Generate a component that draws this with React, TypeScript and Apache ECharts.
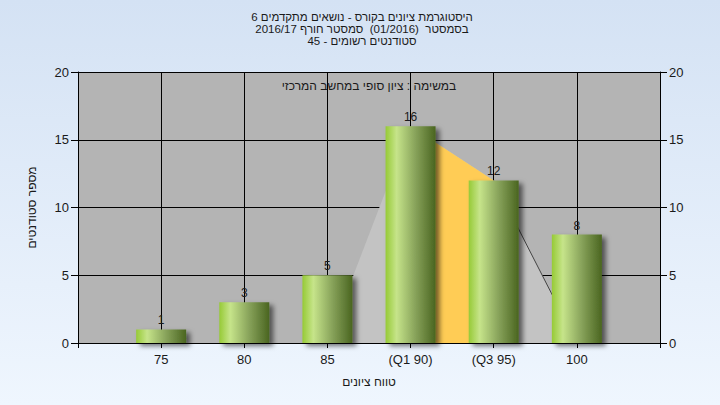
import React, { useEffect, useRef } from "react";
import * as echarts from "echarts";

const categories = ["", "75", "80", "85", "(Q1 90)", "(Q3 95)", "100", ""];
const counts = [null, 1, 3, 5, 16, 12, 8, null];
const rangeArea = [null, null, null, 0, 16, 12, 0, null];
const quartileArea = [null, null, null, null, 16, 12, null, null];
const tailLine = [null, null, null, null, null, 12, 0, null];
const yTicks = { min: 0, max: 20, interval: 5 };

const titleLines = [
  "היסטוגרמת ציונים בקורס - נושאים מתקדמים 6",
  "בסמסטר  (01/2016)  סמסטר חורף 2016/17",
  "סטודנטים רשומים - 45",
];
const innerTitle = "במשימה : ציון סופי במחשב המרכזי";
const xName = "טווח ציונים";
const yName = "מספר סטודנטים";

const FONT = "'Liberation Sans', 'DejaVu Sans', Arial, sans-serif";
const rtl = (s: string) => "\u202B" + s + "\u202C";

export default function App() {
  const ref = useRef<HTMLDivElement>(null);
  useEffect(() => {
    if (!ref.current) return;
    const chart = echarts.init(ref.current, null, { renderer: "svg" });
    const axisCommon = {
      type: "value" as const,
      min: yTicks.min,
      max: yTicks.max,
      interval: yTicks.interval,
      axisLine: { show: true, lineStyle: { color: "#000", width: 1 } },
      axisTick: { show: true, length: 7, lineStyle: { color: "#000" } },
      axisLabel: { color: "#1a1a1a", fontSize: 13, fontFamily: FONT, margin: 9 },
    };
    const titleGraphics = titleLines.map((line, i) => ({
      type: "text",
      x: 362,
      y: 17 + i * 12,
      z: 100,
      style: {
        text: rtl(line),
        fill: "#1a1a1a",
        fontSize: 11.5,
        fontFamily: FONT,
        align: "center",
        verticalAlign: "middle",
      },
    }));
    chart.setOption({
      animation: false,
      backgroundColor: new echarts.graphic.LinearGradient(0, 0, 0, 1, [
        { offset: 0, color: "#D4E2F4" },
        { offset: 1, color: "#EFF6FE" },
      ]),
      grid: {
        left: 78,
        right: 60,
        top: 72,
        bottom: 62,
        show: true,
        backgroundColor: "#B4B4B4",
        borderWidth: 0,
      },
      xAxis: {
        type: "category",
        data: categories,
        boundaryGap: false,
        name: rtl(xName),
        nameLocation: "middle",
        nameGap: 33,
        nameTextStyle: { fontSize: 12, color: "#1a1a1a", fontFamily: FONT },
        axisLine: { show: true, lineStyle: { color: "#000", width: 1 } },
        axisTick: { show: true, interval: 0, length: 5, lineStyle: { color: "#000" } },
        axisLabel: { interval: 0, color: "#1a1a1a", fontSize: 13, fontFamily: FONT, margin: 10 },
        splitLine: { show: true, interval: 0, lineStyle: { color: "#000", width: 1 } },
      },
      yAxis: [
        {
          ...axisCommon,
          position: "left",
          name: rtl(yName),
          nameLocation: "middle",
          nameGap: 40,
          nameTextStyle: { fontSize: 12, color: "#1a1a1a", fontFamily: FONT },
          splitLine: { show: true, lineStyle: { color: "#000", width: 1 } },
        },
        {
          ...axisCommon,
          position: "right",
          splitLine: { show: false },
        },
      ],
      graphic: [
        ...titleGraphics,
        {
          type: "text",
          x: 369,
          y: 86,
          z: 100,
          style: {
            text: rtl(innerTitle),
            fill: "#1a1a1a",
            fontSize: 12,
            fontFamily: FONT,
            align: "center",
            verticalAlign: "middle",
          },
        },
      ],
      series: [
        {
          type: "line",
          data: rangeArea,
          symbol: "none",
          lineStyle: { width: 0 },
          areaStyle: { color: "#C3C3C3", opacity: 1 },
          z: 1,
        },
        {
          type: "line",
          data: quartileArea,
          symbol: "none",
          lineStyle: { width: 0 },
          areaStyle: { color: "#FFCC55", opacity: 1 },
          z: 2,
        },
        {
          type: "line",
          data: tailLine,
          symbol: "none",
          lineStyle: { width: 1, color: "#444" },
          z: 3,
        },
        {
          type: "bar",
          data: counts,
          barWidth: 50,
          z: 5,
          itemStyle: {
            color: new echarts.graphic.LinearGradient(0, 0, 1, 0, [
              { offset: 0, color: "#96CA36" },
              { offset: 0.22, color: "#C6E48A" },
              { offset: 0.6, color: "#87A25A" },
              { offset: 1, color: "#4A6520" },
            ]),
            shadowColor: "rgba(0,0,0,0.55)",
            shadowBlur: 5,
            shadowOffsetX: 4,
            shadowOffsetY: 3,
          },
          label: {
            show: true,
            position: "top",
            distance: 3,
            color: "#1a1a1a",
            fontSize: 12,
            fontFamily: FONT,
          },
        },
      ],
    });
    return () => chart.dispose();
  }, []);
  return (
    <div
      ref={ref}
      style={{ position: "fixed", left: 0, top: 0, width: 720, height: 405 }}
    />
  );
}
